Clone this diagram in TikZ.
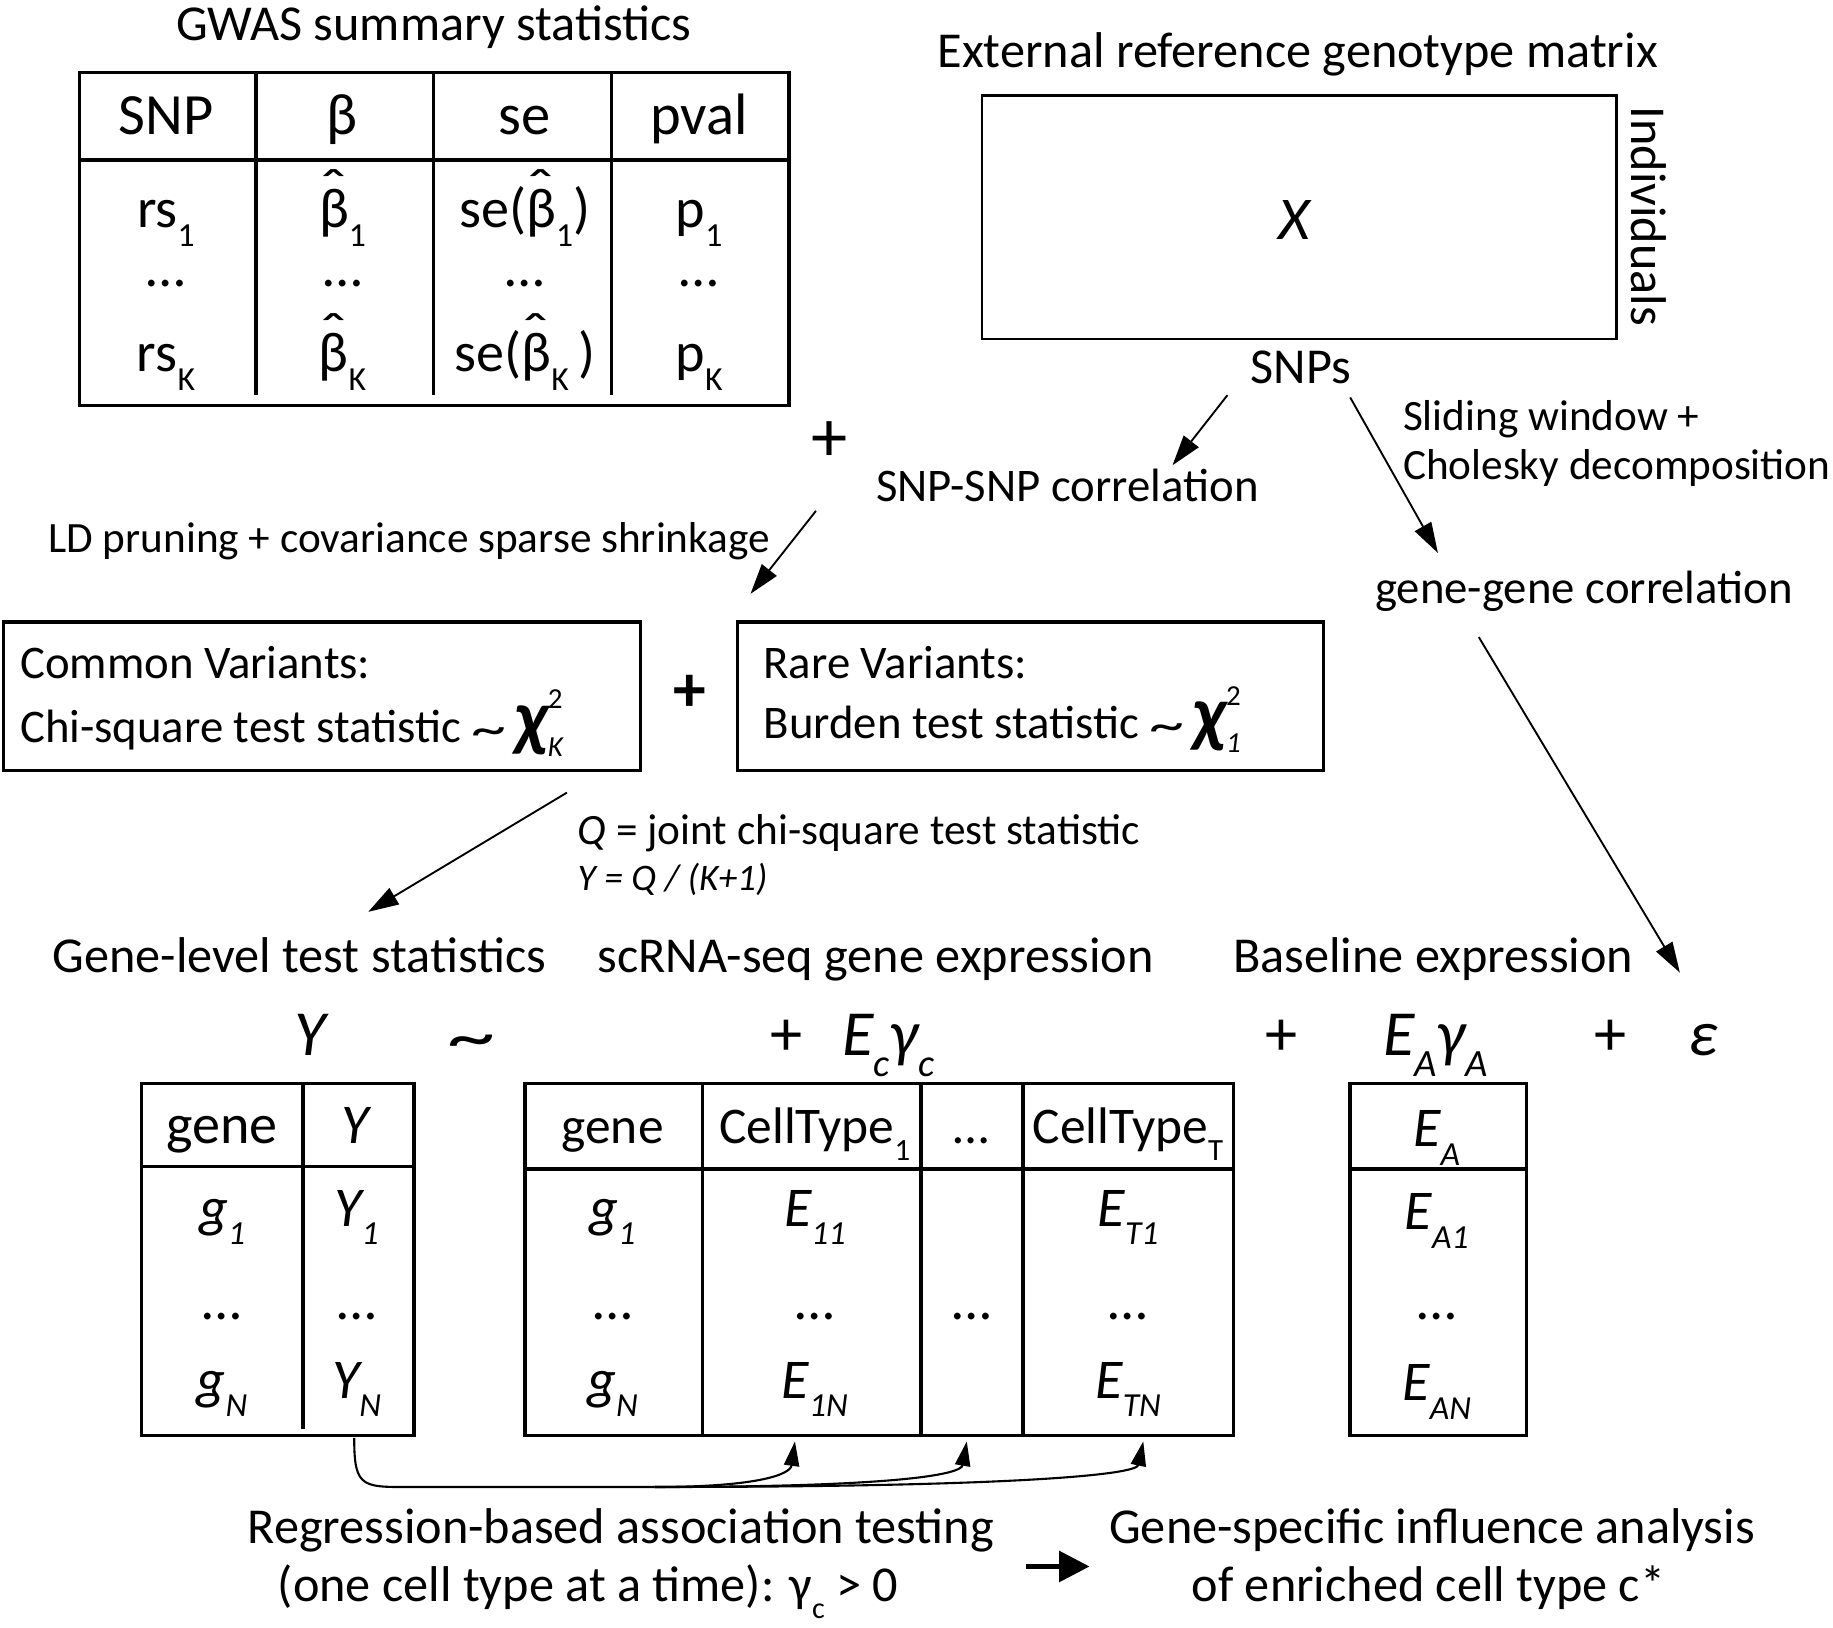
\documentclass[tikz,border=0pt]{standalone}
\usepackage{fontspec}
\setmainfont{Carlito}
\usetikzlibrary{arrows.meta}
\newcommand\fs[1]{\fontsize{#1}{#1}\selectfont}
\newcommand\lsub[1]{\raisebox{-0.33em}{\scalebox{0.6}{#1}}}
\newcommand\bhat{\ooalign{β\cr\hidewidth\raisebox{0.36em}{\scalebox{1.3}[1]{ˆ}}\hidewidth\cr}}
\newcommand\tld{\raisebox{-0.06em}{\scalebox{1.5}[1.05]{\textasciitilde}}}
\newcommand\chisq[1]{\scalebox{1.6}{\bfseries\itshape χ}\rlap{\raisebox{0.72em}{\scalebox{0.62}{2}}}\raisebox{-0.3em}{\scalebox{0.62}{\itshape #1}}}
\begin{document}
\begin{tikzpicture}[x=1pt,y=-1pt,
  lab/.style={font=\fs{43},inner sep=0pt,anchor=base},
  labw/.style={font=\fs{37},inner sep=0pt,anchor=base west},
  boxt/.style={font=\fs{40},inner sep=0pt,anchor=base west},
  hd/.style={font=\fs{50},inner sep=0pt,anchor=base},
  cl/.style={font=\fs{48},inner sep=0pt,anchor=base},
  eqn/.style={font=\fs{55},inner sep=0pt,anchor=base},
  tbl/.style={line width=3pt},
  arr/.style={line width=1.6pt,-{Triangle[length=26pt,width=16pt]}},
  carr/.style={line width=1.8pt,-{Triangle[length=21pt,width=13pt]}}]
\useasboundingbox (0,0) rectangle (1568,1392);

% ---------- GWAS table ----------
\node[lab] (gwas) at (371,35) {GWAS summary statistics};
\draw[tbl] (68,62) rectangle (675,347);
\draw[tbl] (68,137) -- (675,137);
\foreach \x in {219,371,523} \draw[tbl] (\x,62) -- (\x,338);
\node[hd] (hsnp) at (142,115) {SNP};
\node[hd] (hbeta) at (293,115) {β};
\node[hd] (hse) at (449,115) {se};
\node[hd] (hp) at (598,115) {pval};
\node[cl] (r1a) at (142,195) {rs\lsub{1}};
\node[cl] (r1b) at (293,195) {\bhat\lsub{1}};
\node[cl] (r1c) at (449,195) {se(\bhat\lsub{1})};
\node[cl] (r1d) at (598,195) {p\lsub{1}};
\node[cl] (r2a) at (142,245) {…};
\node[cl] (r2b) at (293,245) {…};
\node[cl] (r2c) at (449,245) {…};
\node[cl] (r2d) at (598,245) {…};
\node[cl] (r3a) at (142,318) {rs\lsub{K}};
\node[cl] (r3b) at (293,318) {\bhat\lsub{K}};
\node[cl] (r3c) at (449,318) {se(\bhat\lsub{K}\,)};
\node[cl] (r3d) at (598,318) {p\lsub{K}};

\node[font=\fs{62},inner sep=0pt] (plus1) at (710,378) {+};

% ---------- Genotype matrix ----------
\node[lab] (extt) at (1110,58) {External reference genotype matrix};
\draw[line width=2.5pt] (840,82) rectangle (1383,290);
\node[font=\fs{52}\itshape,inner sep=0pt,anchor=base] (X) at (1107,205) {X};
\node[font=\fs{43},inner sep=0pt,rotate=-90] (indiv) at (1410,185) {Individuals};
\node[lab] (snps) at (1113,328) {SNPs};

\node[lab,font=\fs{40}] (snpsnp) at (913,429) {SNP-SNP correlation};
\node[labw] (slide1) at (1200,368) {Sliding window +};
\node[labw] (slide2) at (1200,410) {Cholesky decomposition};
\node[lab,font=\fs{40}] (genegene) at (1355,516) {gene-gene correlation};
\node[lab,font=\fs{37}] (ldp) at (350,473) {LD pruning + covariance sparse shrinkage};

\coordinate (a1s) at (1050,338); \coordinate (a1e) at (1003,398);
\coordinate (a2s) at (1155,340); \coordinate (a2e) at (1230,473);
\coordinate (a3s) at (698,437);  \coordinate (a3e) at (642,508);
\coordinate (a4s) at (485,678);  \coordinate (a4e) at (315,780);
\coordinate (a5s) at (1265,545); \coordinate (a5e) at (1437,832);
\draw[arr] (a1s) -- (a1e);
\draw[arr] (a2s) -- (a2e);
\draw[arr] (a3s) -- (a3e);
\draw[arr] (a4s) -- (a4e);
\draw[arr] (a5s) -- (a5e);

% ---------- Variant boxes ----------
\draw[tbl] (3,532) rectangle (548,659);
\node[boxt] (cv1) at (17,580) {Common Variants:};
\node[boxt] (cv2) at (17,635) {Chi-square test statistic \tld\,\chisq{K}};
\node[font=\fs{56}\bfseries,inner sep=0pt] (plus2) at (590,593) {+};
\draw[tbl] (631,532) rectangle (1132,659);
\node[boxt] (rv1) at (653,580) {Rare Variants:};
\node[boxt] (rv2) at (653,632) {Burden test statistic \tld\,\chisq{1}};

\node[labw] (qline) at (494,722) {\textit{Q} = joint chi-square test statistic};
\node[labw,font=\fs{32}\itshape] (yline) at (494,762) {Y = Q / (K+1)};

% ---------- Labels & equation ----------
\node[lab] (glts) at (256,832) {Gene-level test statistics};
\node[lab] (scrna) at (749,832) {scRNA-seq gene expression};
\node[lab] (basel) at (1226,832) {Baseline expression};

\node[eqn] (eY) at (267,903) {\textit{Y}};
\node[eqn] (eT) at (403,903) {\tld};
\node[eqn] (eP1) at (673,903) {+};
\node[eqn] (eEc) at (760,903) {\textit{E\lsub{c}γ\lsub{c}}};
\node[eqn] (eP2) at (1096,903) {+};
\node[eqn] (eEA) at (1228,903) {\textit{E\lsub{A}γ\lsub{A}}};
\node[eqn] (eP3) at (1378,903) {+};
\node[eqn] (eEps) at (1457,903) {\textit{ε}};

% ---------- Y table ----------
\draw[tbl] (121,927) rectangle (354,1228);
\draw[tbl] (121,998) -- (354,998);
\draw[tbl] (259,927) -- (259,1222);
\node[cl] (yh1) at (190,978) {gene};
\node[cl] (yh2) at (305,978) {\textit{Y}};
\node[cl] (y11) at (190,1049) {\textit{g\lsub{1}}};
\node[cl] (y12) at (305,1049) {\textit{Y\lsub{1}}};
\node[cl] (y21) at (190,1129) {…};
\node[cl] (y22) at (305,1129) {…};
\node[cl] (y31) at (190,1196) {\textit{g\lsub{N}}};
\node[cl] (y32) at (305,1196) {\textit{Y\lsub{N}}};

% ---------- E table ----------
\draw[tbl] (449,927) rectangle (1055,1228);
\draw[tbl] (449,1000) -- (1055,1000);
\foreach \x in {601,788,875} \draw[tbl] (\x,927) -- (\x,1228);
\node[cl,font=\fs{44}] (eh1) at (524,978) {gene};
\node[cl,font=\fs{44}] (eh2) at (697,978) {CellType\lsub{1}};
\node[cl,font=\fs{44}] (eh3) at (831,978) {…};
\node[cl,font=\fs{44}] (eh4) at (965,978) {CellType\lsub{T}};
\node[cl] (e11) at (524,1049) {\textit{g\lsub{1}}};
\node[cl] (e12) at (697,1049) {\textit{E\lsub{11}}};
\node[cl] (e14) at (965,1049) {\textit{E\lsub{T1}}};
\node[cl] (e21) at (524,1129) {…};
\node[cl] (e22) at (697,1129) {…};
\node[cl] (e23) at (831,1129) {…};
\node[cl] (e24) at (965,1129) {…};
\node[cl] (e31) at (524,1196) {\textit{g\lsub{N}}};
\node[cl] (e32) at (697,1196) {\textit{E\lsub{1N}}};
\node[cl] (e34) at (965,1196) {\textit{E\lsub{TN}}};

% ---------- EA table ----------
\draw[tbl] (1155,927) rectangle (1306,1228);
\draw[tbl] (1155,1000) -- (1306,1000);
\node[cl] (ah) at (1229,981) {\textit{E\lsub{A}}};
\node[cl] (a1) at (1229,1052) {\textit{E\lsub{A1}}};
\node[cl] (a2) at (1229,1129) {…};
\node[cl] (a3) at (1229,1198) {\textit{E\lsub{AN}}};

% ---------- regression curves ----------
\coordinate (cs) at (303,1230);
\coordinate (cm) at (560,1272);
\coordinate (ct1) at (680,1233);
\coordinate (ct2) at (827,1233);
\coordinate (ct3) at (978,1233);
\draw[line width=1.8pt] (cs) .. controls (303,1275) and (310,1272) .. (360,1272) -- (cm);
\draw[carr] (cm) .. controls (645,1272) and (676,1262) .. (ct1);
\draw[carr] (cm) .. controls (760,1272) and (822,1262) .. (ct2);
\draw[carr] (cm) .. controls (860,1272) and (972,1262) .. (ct3);

% ---------- bottom ----------
\node[lab] (reg1) at (531,1320) {Regression-based association testing};
\node[lab] (reg2) at (503,1370) {(one cell type at a time): γ\lsub{c} > 0};
\node[lab] (gs1) at (1225,1320) {Gene-specific influence analysis};
\node[lab] (gs2) at (1222,1370) {of enriched cell type c*};
\coordinate (bs) at (878,1340); \coordinate (be) at (932,1340);
\draw[line width=4pt,-{Triangle[length=26pt,width=26pt]}] (bs) -- (be);
\end{tikzpicture}
\end{document}
